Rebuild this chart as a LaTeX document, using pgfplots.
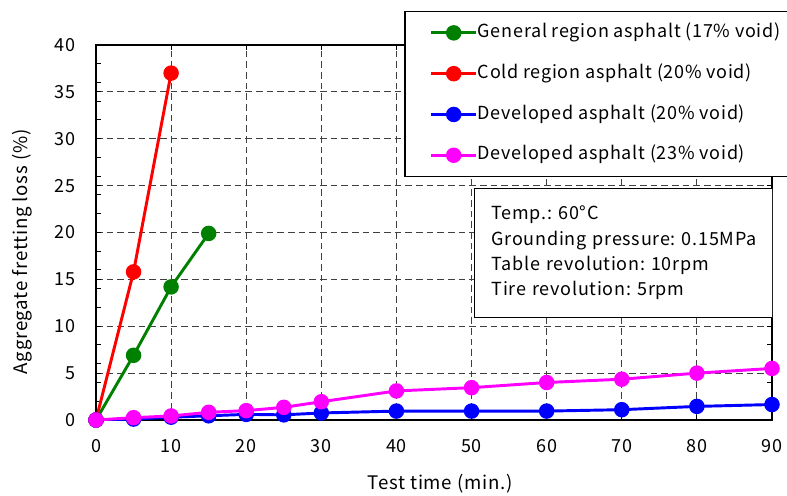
\documentclass[border=0pt]{standalone}
\usepackage{pgfplots}
\pgfplotsset{compat=1.18}
\usepackage{fontspec}
\setmainfont{Noto Sans CJK JP}[LetterSpace=4]
\frenchspacing
\definecolor{cgreen}{RGB}{0,128,0}
\definecolor{cred}{RGB}{255,0,0}
\definecolor{cblue}{RGB}{0,0,255}
\definecolor{cmag}{RGB}{255,0,255}
\begin{document}
\begin{tikzpicture}
\path[use as bounding box, clip] (-72pt,-56.25pt) rectangle (518.25pt,315pt);
\begin{axis}[
  at={(0,0)}, anchor=south west,
  width=507pt, height=281.25pt, scale only axis,
  xmin=0, xmax=90, ymin=0, ymax=40,
  xtick={0,10,...,90}, ytick={0,5,...,40},
  minor ytick={2,4,...,38},
  grid=major,
  major grid style={black!75, line width=0.6pt, dash pattern=on 5pt off 3pt},
  tick align=inside,
  major tick length=4pt, minor tick length=4pt,
  tick style={black, line width=0.75pt},
  axis line style={black, line width=1.3pt},
  /pgf/number format/assume math mode=true,
  ticklabel style={font=\fontsize{13.5}{15}\selectfont},
  xticklabel style={yshift=-11pt},
  yticklabel style={xshift=-12pt},
  xlabel={Test time (min.)},
  ylabel={Aggregate fretting loss (\%)},
  label style={font=\fontsize{14}{16}\selectfont},
  xlabel style={at={(axis description cs:0.509,-0.171)}, anchor=center},
  ylabel style={at={(axis description cs:-0.1095,0.448)}, anchor=center},
  every axis plot/.append style={line width=2.2pt, mark=*, mark size=4.7pt, mark options={solid}},
  legend style={
    at={(0.456,1.091)}, anchor=north west,
    draw=black, line width=1pt, fill=white,
    inner xsep=18.5pt, inner ysep=9.5pt,
    font=\fontsize{13.5}{16}\selectfont,
    nodes={inner sep=0pt, text height=10pt, text depth=3pt},
    row sep=17.6pt,
    /tikz/every even column/.append style={column sep=4pt},
  },
  legend cell align=left,
  legend image code/.code={
    \draw[#1, line width=2.2pt, mark repeat=2, mark phase=2]
      plot coordinates {(0pt,0pt) (17pt,0pt) (34pt,0pt)};
  },
]
\addplot[cgreen] coordinates {(0,0) (5,6.9) (10,14.2) (15,19.9)};
\addlegendentry{General region asphalt (17\% void)\hspace*{12pt}}
\addplot[cred] coordinates {(0,0) (5,15.8) (10,37.0)};
\addlegendentry{Cold region asphalt (20\% void)}
\addplot[cblue] coordinates {(0,0) (5,0.1) (10,0.3) (15,0.45) (20,0.6) (25,0.55) (30,0.75) (40,0.95) (50,0.95) (60,0.95) (70,1.1) (80,1.45) (90,1.65)};
\addlegendentry{Developed asphalt (20\% void)}
\addplot[cmag] coordinates {(0,0) (5,0.25) (10,0.43) (15,0.82) (20,1.0) (25,1.35) (30,1.95) (40,3.1) (50,3.45) (60,4.0) (70,4.35) (80,5.0) (90,5.5)};
\addlegendentry{Developed asphalt (23\% void)}
\node[draw=black, line width=1pt, fill=white, anchor=north west,
  minimum width=225.75pt, minimum height=96.75pt,
  text width=200pt, inner xsep=12.75pt, align=left,
  font=\fontsize{13.5}{19}\selectfont]
  at (rel axis cs:0.559,0.619)
  {Temp.: 60°C\\Grounding pressure: 0.15MPa\\Table revolution: 10rpm\\Tire revolution: 5rpm};
\end{axis}
\end{tikzpicture}
\end{document}
